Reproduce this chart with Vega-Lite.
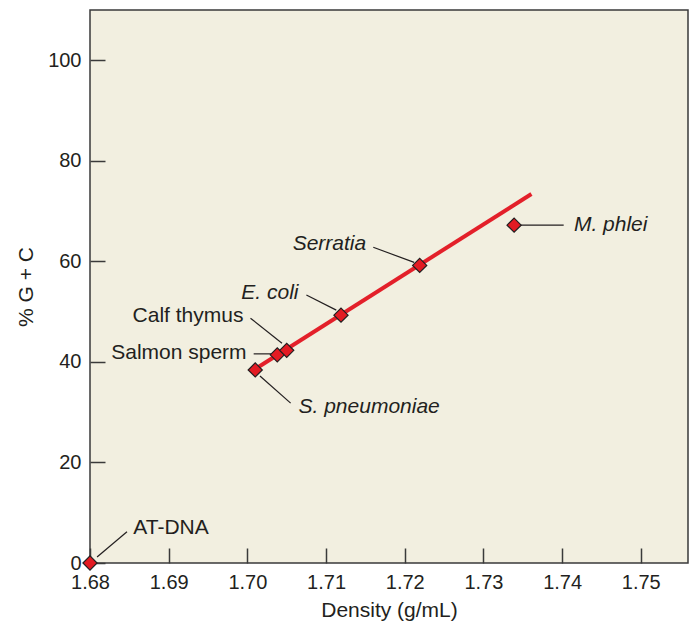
{
  "$schema": "https://vega.github.io/schema/vega-lite/v6.json",
  "width": 598,
  "height": 553,
  "autosize": {"type": "none"},
  "padding": {"left": 90, "top": 10, "right": 6, "bottom": 60},
  "background": "white",
  "config": {
    "font": "Liberation Sans",
    "view": {"fill": "#f2efe0", "stroke": "#3a3a3a", "strokeWidth": 1.5},
    "axis": {
      "domain": false,
      "grid": false,
      "tickColor": "#3a3a3a",
      "tickWidth": 1.5,
      "tickSize": -15,
      "labelFontSize": 20,
      "labelColor": "#231f20",
      "labelFlush": false,
      "titleFontSize": 21,
      "titleFontWeight": "normal",
      "titleColor": "#231f20"
    }
  },
  "datasets": {
    "samples": [
      {"name": "AT-DNA", "density": 1.68, "gc": 0, "lx": 1.6855, "ly": 7.0, "ax1": 1.6809, "ay1": 1.2, "ax2": 1.6847, "ay2": 6.2},
      {"name": "S. pneumoniae", "density": 1.701, "gc": 38.4, "lx": 1.7065, "ly": 31.0, "ax1": 1.7016, "ay1": 37.2, "ax2": 1.7055, "ay2": 31.8},
      {"name": "Salmon sperm", "density": 1.7038, "gc": 41.4, "lx": 1.6999, "ly": 41.8, "ax1": 1.7008, "ay1": 41.6, "ax2": 1.7032, "ay2": 41.6},
      {"name": "Calf thymus", "density": 1.705, "gc": 42.3, "lx": 1.6995, "ly": 49.1, "ax1": 1.7004, "ay1": 48.7, "ax2": 1.7044, "ay2": 43.7},
      {"name": "E. coli", "density": 1.7119, "gc": 49.3, "lx": 1.7065, "ly": 53.7, "ax1": 1.7075, "ay1": 53.3, "ax2": 1.7113, "ay2": 50.3},
      {"name": "Serratia", "density": 1.7219, "gc": 59.2, "lx": 1.7151, "ly": 63.4, "ax1": 1.716, "ay1": 62.8, "ax2": 1.7212, "ay2": 59.8},
      {"name": "M. phlei", "density": 1.7339, "gc": 67.2, "lx": 1.7415, "ly": 67.2, "ax1": 1.7347, "ay1": 67.2, "ax2": 1.7402, "ay2": 67.2}
    ],
    "fit": [
      {"density": 1.7014, "gc": 39.0},
      {"density": 1.7361, "gc": 73.4}
    ]
  },
  "layer": [
    {
      "data": {"name": "samples"},
      "mark": {"type": "rule", "color": "#231f20", "strokeWidth": 1.2},
      "encoding": {
        "x": {
          "field": "ax1", "type": "quantitative",
          "scale": {"domain": [1.68, 1.756], "nice": false, "zero": false},
          "axis": {
            "title": "Density (g/mL)",
            "values": [1.68, 1.69, 1.7, 1.71, 1.72, 1.73, 1.74, 1.75],
            "format": ".2f",
            "labelPadding": 24,
            "titlePadding": 7
          }
        },
        "y": {
          "field": "ay1", "type": "quantitative",
          "scale": {"domain": [0, 110], "nice": false, "zero": false},
          "axis": {
            "title": "% G + C",
            "values": [0, 20, 40, 60, 80, 100],
            "format": "d",
            "labelPadding": 24,
            "titlePadding": 11
          }
        },
        "x2": {"field": "ax2"},
        "y2": {"field": "ay2"}
      }
    },
    {
      "data": {"name": "fit"},
      "mark": {"type": "line", "color": "#e3202a", "strokeWidth": 4},
      "encoding": {
        "x": {"field": "density", "type": "quantitative"},
        "y": {"field": "gc", "type": "quantitative"}
      }
    },
    {
      "data": {"name": "samples"},
      "mark": {"type": "point", "shape": "diamond", "filled": true, "fill": "#e31b23", "stroke": "#231f20", "strokeWidth": 1.2, "size": 200, "opacity": 1},
      "encoding": {
        "x": {"field": "density", "type": "quantitative"},
        "y": {"field": "gc", "type": "quantitative"}
      }
    },
    {
      "data": {"name": "samples"},
      "transform": [{"filter": {"field": "name", "oneOf": ["AT-DNA"]}}],
      "mark": {"type": "text", "align": "left", "baseline": "middle", "fontSize": 21, "color": "#231f20"},
      "encoding": {
        "x": {"field": "lx", "type": "quantitative"},
        "y": {"field": "ly", "type": "quantitative"},
        "text": {"field": "name"}
      }
    },
    {
      "data": {"name": "samples"},
      "transform": [{"filter": {"field": "name", "oneOf": ["S. pneumoniae", "M. phlei"]}}],
      "mark": {"type": "text", "align": "left", "baseline": "middle", "fontSize": 21, "fontStyle": "italic", "color": "#231f20"},
      "encoding": {
        "x": {"field": "lx", "type": "quantitative"},
        "y": {"field": "ly", "type": "quantitative"},
        "text": {"field": "name"}
      }
    },
    {
      "data": {"name": "samples"},
      "transform": [{"filter": {"field": "name", "oneOf": ["Salmon sperm", "Calf thymus"]}}],
      "mark": {"type": "text", "align": "right", "baseline": "middle", "fontSize": 21, "color": "#231f20"},
      "encoding": {
        "x": {"field": "lx", "type": "quantitative"},
        "y": {"field": "ly", "type": "quantitative"},
        "text": {"field": "name"}
      }
    },
    {
      "data": {"name": "samples"},
      "transform": [{"filter": {"field": "name", "oneOf": ["E. coli", "Serratia"]}}],
      "mark": {"type": "text", "align": "right", "baseline": "middle", "fontSize": 21, "fontStyle": "italic", "color": "#231f20"},
      "encoding": {
        "x": {"field": "lx", "type": "quantitative"},
        "y": {"field": "ly", "type": "quantitative"},
        "text": {"field": "name"}
      }
    }
  ]
}
